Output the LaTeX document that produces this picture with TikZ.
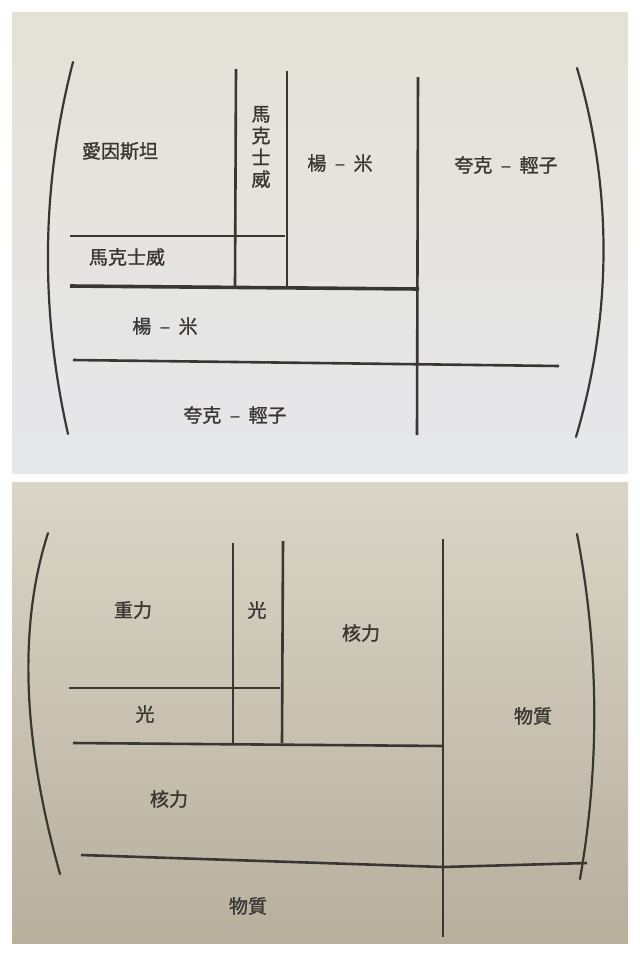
\documentclass[tikz,border=0pt]{standalone}
\usepackage{fontspec}
\newfontfamily\cjk[FakeBold=1.3]{Noto Sans CJK TC}
\definecolor{ink}{RGB}{58,54,50}
\definecolor{paperA}{RGB}{228,225,214}
\definecolor{paperB}{RGB}{230,231,236}
\definecolor{paperC}{RGB}{218,213,199}
\definecolor{paperD}{RGB}{184,175,157}
\newcommand{\dash}{\hspace{.45em}–\hspace{.45em}}
\begin{document}
\begin{tikzpicture}[x=1pt, y=-1pt,
  lbl/.style={font={\cjk\fontsize{19}{21.75}\selectfont}, inner sep=0pt, text=ink, align=center},
  rule/.style={draw=ink, line width=2.6pt},
  heavyrule/.style={draw=ink, line width=3.6pt},
  paren/.style={draw=ink, line width=2.2pt, line cap=round}]
\useasboundingbox(0,0)rectangle(640,956);
\fill[white](0,0)rectangle(640,956);
%
% upper page
\shade[top color=paperA, bottom color=paperB](12,12)rectangle(628,473);
\draw[paren](73,62)..controls(41,186)and(40,310)..(68,434);
\draw[paren](577,68)..controls(613,190)and(612,315)..(576,437);
\draw[rule](236,69)--(235,287);
\draw[rule](287,71)--(287,287);
\draw[rule](418,77)--(417,435);
\draw[rule](70,236)--(285,236);
\draw[heavyrule](70,286)--(419,289);
\draw[rule](73,360)--(559,366);
%
\node[lbl](E)at(120,151){愛因斯坦};
\node[lbl](Mv)at(261,147){馬\\克\\士\\威};
\node[lbl](Y)at(340,163){楊\dash 米};
\node[lbl](Q)at(506,165){夸克\dash 輕子};
\node[lbl](Mh)at(127,257){馬克士威};
\node[lbl](Yh)at(165,326){楊\dash 米};
\node[lbl](Qh)at(235,415){夸克\dash 輕子};
%
% lower page
\shade[top color=paperC, bottom color=paperD](12,482)rectangle(628,943);
\draw[paren](48,533)..controls(17,630)and(24,745)..(60,874);
\draw[paren](577,534)..controls(599,649)and(600,764)..(580,879);
\draw[rule](233,543)--(233,743);
\draw[rule](283,541)--(282,743);
\draw[rule](443,539)--(443,937);
\draw[rule](69,688)--(280,688);
\draw[rule](73,743)--(444,746);
\draw[rule, line join=round](81,855)--(443,867)--(587,863);
%
\node[lbl](G)at(133,610){重力};
\node[lbl](Lv)at(257,610){光};
\node[lbl](Nv)at(361,633){核力};
\node[lbl](Lh)at(145,714){光};
\node[lbl](Pv)at(533,716){物質};
\node[lbl](Nh)at(169,799){核力};
\node[lbl](Ph)at(248,906){物質};
\end{tikzpicture}
\end{document}
